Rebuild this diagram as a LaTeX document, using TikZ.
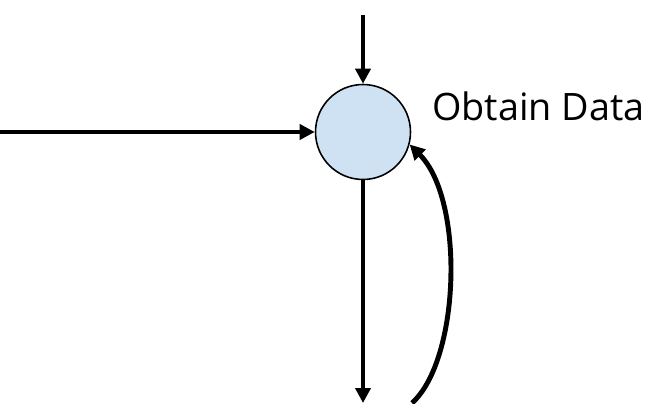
\documentclass[tikz,border=0pt]{standalone}
\usepackage{fontspec}
\setmainfont{Open Sans}
\usetikzlibrary{arrows.meta}

\tikzset{
    flow/.style={line width=2.3pt, -{Triangle[length=0.3cm, width=0.3cm]}},
    state/.style={circle, draw, line width=0.9pt, minimum size=1.9cm, inner sep=0pt}
}

\begin{document}
\begin{tikzpicture}[x=0.02cm, y=-0.02cm]
    \useasboundingbox (0, 0) rectangle (648, 404);

    % the state and its label
    \node[state, fill={rgb,255:red,207;green,226;blue,243}] (data) at (363, 132) {};
    \node[anchor=east, inner sep=0pt, font=\fontsize{21.5}{26}\selectfont] (label) at (645, 106) {Obtain Data};

    % loose ends of the connectors
    \coordinate (top) at (363, 15);
    \coordinate (left) at (0, 132);
    \coordinate (bottom) at (363, 403);
    \coordinate (loop) at (412, 403);

    % connectors
    \draw[flow] (top) -- (data);
    \draw[flow] (left) -- (data);
    \draw[flow] (data) -- (bottom);
    \draw[flow, line width=2.8pt] (loop) .. controls (460, 360) and (465, 200) .. (data.-15);
\end{tikzpicture}
\end{document}
